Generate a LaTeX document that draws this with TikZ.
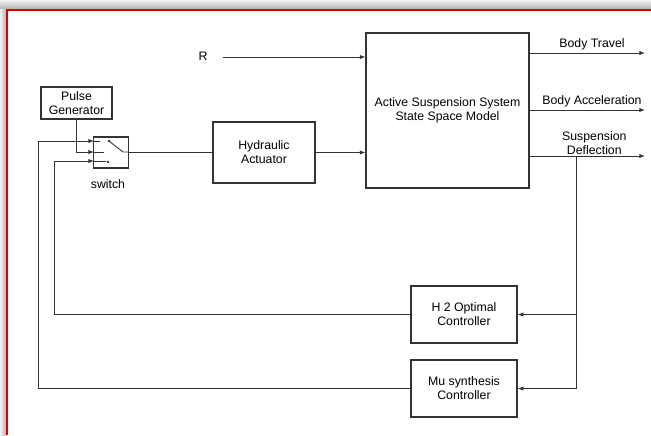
\documentclass[tikz,border=0pt]{standalone}
\usepackage{fontspec}
\setmainfont{Liberation Sans}
\usetikzlibrary{arrows.meta}

\begin{document}
\begin{tikzpicture}[x=0.03cm, y=-0.03cm,
  blk/.style={draw=black!80, line width=1pt, fill=white, align=center, inner sep=1pt,
    font=\fontsize{10.5}{12}\selectfont},
  lbl/.style={align=center, inner sep=1pt, font=\fontsize{10.5}{12}\selectfont},
  wire/.style={draw=black!80, line width=0.75pt},
  sig/.style={wire, -{Latex[length=1.7mm, width=1.3mm]}}]
\useasboundingbox (0,0) rectangle (651,435);
% frame with shadow
\shade[top color=gray!10, bottom color=gray!60] (0,0) rectangle (651,9);
\shade[left color=gray!10, right color=gray!60] (0,9) rectangle (6,435);
\draw[red!85!black, line width=1.2pt] (7,435) -- (7,10) -- (651,10);
% blocks
\node[blk, minimum width=4.89cm, minimum height=4.65cm] (plant) at (447.5,110.5)
  {Active Suspension System\\State Space Model};
\node[blk, minimum width=3.06cm, minimum height=1.83cm] (hyd) at (264,152.5)
  {Hydraulic\\Actuator};
\node[blk, minimum width=2.13cm, minimum height=0.96cm] (pulse) at (76.5,103)
  {Pulse\\Generator};
\node[blk, minimum width=1.05cm, minimum height=0.93cm] (sw) at (111,152.5) {};
\node[lbl] (swlbl) at (108,184) {switch};
\node[blk, minimum width=3.18cm, minimum height=1.71cm] (htwo) at (464,314.5)
  {H 2 Optimal\\Controller};
\node[blk, minimum width=3.18cm, minimum height=1.71cm] (mu) at (464,388.5)
  {Mu synthesis\\Controller};
\node[lbl] (ref) at (203,56) {R};
% switch ports and lever
\coordinate (swA) at (94,141);
\coordinate (swB) at (94,152);
\coordinate (swC) at (94,161);
\draw[wire] (swA) -- (100,141);
\draw[wire] (swB) -- (104,152);
\draw[wire] (swC) -- (106,161);
\fill[black!80] (109,141) circle (1.3);
\fill[black!80] (108,162) circle (1.3);
\draw[wire] (109,141) -- (123,152) -- (sw.east |- 0,152);
% reference input
\coordinate (refin) at (223,57);
\draw[sig] (refin) -- (refin -| plant.west);
% forward path
\draw[wire] (sw.east |- hyd.center) -- (hyd.west);
\draw[sig] (hyd.east) -- (hyd.east -| plant.west);
% outputs
\coordinate (travel) at (645,53);
\coordinate (accel) at (645,110);
\coordinate (defl) at (645,156);
\draw[sig] (plant.east |- travel) -- (travel) node[lbl, midway, above=1pt, xshift=4pt] {Body Travel};
\draw[sig] (plant.east |- accel) -- (accel) node[lbl, midway, above=1pt, xshift=4pt] {Body Acceleration};
\draw[sig] (plant.east |- defl) -- (defl) node[lbl, midway, above, xshift=6pt] {Suspension\\Deflection};
% feedback
\coordinate (tap) at (576,156);
\draw[sig] (tap) |- (mu.east);
\draw[sig] (tap |- htwo.east) -- (htwo.east);
\coordinate (fbin) at (54,0);
\coordinate (fbout) at (38,0);
\draw[sig] (htwo.west) -| (fbin |- swC) -- (swC);
\draw[sig] (mu.west) -| (fbout |- swA) -- (swA);
\draw[sig] (pulse.south) |- (swB);
\end{tikzpicture}
\end{document}
